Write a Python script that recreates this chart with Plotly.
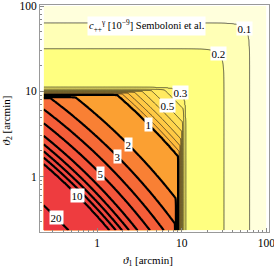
import numpy as np
import plotly.graph_objects as go

# ---------------- data ----------------
# contour levels of c_{++} [1e-9]
levels = [0.1, 0.2, 0.3, 0.4, 0.5, 0.6, 0.7, 0.8, 0.9, 1, 2, 3, 4, 5, 6, 7, 8, 9, 10, 20]
labeled_levels = [20, 10, 5, 3, 2, 1, 0.5, 0.3, 0.2, 0.1]
thick_from = 1  # levels >= 1 drawn thick

# inner region (both angles below ~9'): contour positions along log10(theta1*theta2)
inner_logprod = [-1.35, -0.96, -0.45, -0.37, -0.29, -0.20, -0.09, 0.075, 0.26, 0.478, 0.745, 1.223, 1.657, 2.02, 2.12]
inner_value = [33, 20, 10, 9, 8, 7, 6, 5, 4, 3, 2, 1, 0.5, 0.3, 0.29]

# edge / outer region: contour positions along log10(max(theta1, theta2))
edge_logmax = [0.85, 0.93, 0.96, 0.97, 0.98, 0.99, 1.0, 1.01, 1.025, 1.045, 1.5, 1.8, 2.1]
edge_value = [60, 2, 1, 0.9, 0.8, 0.7, 0.6, 0.5, 0.4, 0.3, 0.2, 0.1, 0.055]

theta_range = [0.235, 100]  # arcmin

# band colours (below first level, between levels, above last level)
band_colors = ['#FFFFDC', '#FFFFB6', '#FFFF80', '#FFF46C', '#FFEA60', '#FFDF56', '#FFD44C',
               '#FFC944', '#FFBE3E', '#FFB43A', '#FBA032', '#F98034', '#F66A37', '#F45D39',
               '#F3553B', '#F2503C', '#F14A3D', '#F0463E', '#F0423E', '#EE3C3F', '#EC3540']

x_tick_vals = [1, 10, 100]
minor_ticks = [0.3, 0.4, 0.5, 0.6, 0.7, 0.8, 0.9, 2, 3, 4, 5, 6, 7, 8, 9,
               20, 30, 40, 50, 60, 70, 80, 90]

# ---------------- field reconstruction ----------------
lo, hi = np.log10(theta_range[0]), np.log10(theta_range[1])
u = np.linspace(lo, hi, 361)
v = np.linspace(lo, hi, 361)
U, V = np.meshgrid(u, v)


def log_field(U, V):
    s_eff = U + V + 0.05 * (U - V) ** 2
    m = np.log10(10 ** (5 * U) + 10 ** (5 * V)) / 5
    l_in = np.interp(s_eff, inner_logprod, np.log10(inner_value))
    l_edge = np.interp(m, edge_logmax, np.log10(edge_value))
    return np.minimum(l_in, l_edge)


logz = log_field(U, V)
lev_x = np.log10([0.01] + levels + [200])
lev_i = np.arange(len(levels) + 2, dtype=float)  # 0 .. 21 ; level k -> index k
W = np.interp(logz, lev_x, lev_i)

n = len(levels)
colorscale = [[k / n, c] for k, c in enumerate(band_colors)]

fig = go.Figure()
fig.add_trace(go.Contour(
    x=u, y=v, z=W,
    contours=dict(start=1, end=n, size=1, coloring='fill', showlines=True),
    colorscale=colorscale, showscale=False,
    line=dict(color='#1a1a1a', width=0.7),
    hoverinfo='skip'))
k_thick = levels.index(thick_from) + 1
fig.add_trace(go.Contour(
    x=u, y=v, z=W,
    contours=dict(start=k_thick, end=n, size=1, coloring='none'),
    showscale=False,
    line=dict(color='black', width=2.2),
    hoverinfo='skip'))

# label positions: where each labelled contour crosses the diagonal theta1 = theta2
t = np.linspace(lo, hi, 4001)
ld = log_field(t, t)
for lv in labeled_levels:
    tpos = np.interp(-np.log10(lv), -ld, t)
    txt = ('%g' % lv)
    fig.add_annotation(x=tpos, y=tpos, xref='x', yref='y', text=txt, showarrow=False,
                       bgcolor='white', borderpad=0.5,
                       font=dict(family='Liberation Serif', size=11, color='black'))

fig.add_annotation(xref='paper', yref='paper', x=0.467, y=0.952, showarrow=False,
                   text='<i>c</i><sub>++</sub><sup>γ</sup> [10<sup>−9</sup>] Semboloni et al.',
                   bgcolor='white', borderpad=1,
                   font=dict(family='Liberation Serif', size=10.5, color='black'))

fig.add_annotation(xref='paper', yref='paper', x=0.5, y=0, xshift=-7, yshift=-29,
                   yanchor='middle', showarrow=False,
                   text='<i>ϑ</i><sub>1</sub> [arcmin]',
                   font=dict(family='Liberation Serif', size=11, color='black'))
fig.add_annotation(xref='paper', yref='paper', x=0, y=0.5, xshift=-34, yshift=-2,
                   xanchor='center', yanchor='middle', textangle=-90, showarrow=False,
                   text='<i>ϑ</i><sub>2</sub> [arcmin]',
                   font=dict(family='Liberation Serif', size=11, color='black'))

axis_common = dict(
    tickmode='array', tickvals=np.log10(x_tick_vals).tolist(),
    ticktext=[('%g' % a) for a in x_tick_vals],
    ticks='inside', ticklen=4, tickwidth=1, tickcolor='#888888',
    minor=dict(tickmode='array', tickvals=np.log10(minor_ticks).tolist(),
               ticks='inside', ticklen=2, tickwidth=1, tickcolor='#888888', showgrid=False),
    showline=True, linecolor='#999999', linewidth=1, mirror=True,
    showgrid=False, zeroline=False, automargin=False, ticklabeloverflow='allow',
    tickfont=dict(family='Liberation Serif', size=11.5, color='black'))

fig.update_xaxes(range=[-0.673, 2.031], **axis_common)
fig.update_yaxes(range=[-0.649, 2.012], **axis_common)

fig.update_layout(width=274, height=268, margin=dict(l=40, r=5, t=5, b=36, autoexpand=False),
                  paper_bgcolor='white', plot_bgcolor='white', showlegend=False)

fig.write_html('out.html', config={'displayModeBar': False, 'staticPlot': True},
               post_script="document.body.style.margin='0';")
